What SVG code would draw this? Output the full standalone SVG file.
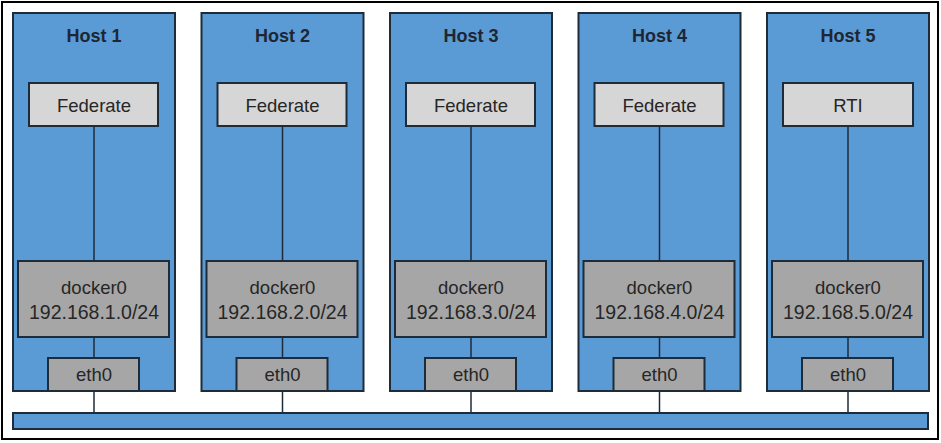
<svg xmlns="http://www.w3.org/2000/svg" width="941" height="443" viewBox="0 0 941 443">
<style>
.host{fill:#5B9BD5;stroke:#1E2B38;stroke-width:2}
.app{fill:#D6D6D6;stroke:#1E2B38;stroke-width:2}
.dock{fill:#A6A6A6;stroke:#1E2B38;stroke-width:2}
.bus{fill:#5B9BD5;stroke:#1E2B38;stroke-width:2}
.ln{stroke:#1E2B38;stroke-width:1.5;fill:none}
text{font-family:"Liberation Sans",Arial,sans-serif;text-anchor:middle;fill:#262626}
.t{font-weight:bold;font-size:18px;fill:#1E2633}
.l{font-size:18.5px}
.ip{font-size:19.5px}
</style>
<rect x="2" y="2" width="936" height="437" fill="#fff" stroke="#000" stroke-width="2"/>
<g id="host1">
<rect class="host" x="13" y="13" width="162" height="378"/>
<text class="t" x="94" y="42">Host 1</text>
<g id="federate1"><rect class="app" x="29" y="83" width="129" height="43"/><text class="l" x="94" y="112">Federate</text></g>
<g id="docker1"><rect class="dock" x="18" y="261" width="151" height="76"/><text class="l" x="94" y="294">docker0</text><text class="ip" x="94" y="319">192.168.1.0/24</text></g>
<g id="eth1"><rect class="dock" x="48" y="358" width="91" height="33"/><text class="l" x="94" y="381">eth0</text></g>
</g>
<g id="host2">
<rect class="host" x="201.5" y="13" width="162" height="378"/>
<text class="t" x="282.5" y="42">Host 2</text>
<g id="federate2"><rect class="app" x="217.5" y="83" width="129" height="43"/><text class="l" x="282.5" y="112">Federate</text></g>
<g id="docker2"><rect class="dock" x="206.5" y="261" width="151" height="76"/><text class="l" x="282.5" y="294">docker0</text><text class="ip" x="282.5" y="319">192.168.2.0/24</text></g>
<g id="eth2"><rect class="dock" x="236.5" y="358" width="91" height="33"/><text class="l" x="282.5" y="381">eth0</text></g>
</g>
<g id="host3">
<rect class="host" x="390" y="13" width="162" height="378"/>
<text class="t" x="471" y="42">Host 3</text>
<g id="federate3"><rect class="app" x="406" y="83" width="129" height="43"/><text class="l" x="471" y="112">Federate</text></g>
<g id="docker3"><rect class="dock" x="395" y="261" width="151" height="76"/><text class="l" x="471" y="294">docker0</text><text class="ip" x="471" y="319">192.168.3.0/24</text></g>
<g id="eth3"><rect class="dock" x="425" y="358" width="91" height="33"/><text class="l" x="471" y="381">eth0</text></g>
</g>
<g id="host4">
<rect class="host" x="578.5" y="13" width="162" height="378"/>
<text class="t" x="659.5" y="42">Host 4</text>
<g id="federate4"><rect class="app" x="594.5" y="83" width="129" height="43"/><text class="l" x="659.5" y="112">Federate</text></g>
<g id="docker4"><rect class="dock" x="583.5" y="261" width="151" height="76"/><text class="l" x="659.5" y="294">docker0</text><text class="ip" x="659.5" y="319">192.168.4.0/24</text></g>
<g id="eth4"><rect class="dock" x="613.5" y="358" width="91" height="33"/><text class="l" x="659.5" y="381">eth0</text></g>
</g>
<g id="host5">
<rect class="host" x="767" y="13" width="162" height="378"/>
<text class="t" x="848" y="42">Host 5</text>
<g id="rti"><rect class="app" x="783" y="83" width="130" height="43"/><text class="l" x="848" y="112">RTI</text></g>
<g id="docker5"><rect class="dock" x="772" y="261" width="151" height="76"/><text class="l" x="848" y="294">docker0</text><text class="ip" x="848" y="319">192.168.5.0/24</text></g>
<g id="eth5"><rect class="dock" x="802" y="358" width="91" height="33"/><text class="l" x="848" y="381">eth0</text></g>
</g>
<g id="network"><rect class="bus" x="13" y="413" width="915" height="16"/></g>
<g id="connectors">
<line class="ln" x1="94" y1="126" x2="94" y2="261"/><line class="ln" x1="94" y1="337" x2="94" y2="358"/><line class="ln" x1="94" y1="391" x2="94" y2="413"/>
<line class="ln" x1="282.5" y1="126" x2="282.5" y2="261"/><line class="ln" x1="282.5" y1="337" x2="282.5" y2="358"/><line class="ln" x1="282.5" y1="391" x2="282.5" y2="413"/>
<line class="ln" x1="471" y1="126" x2="471" y2="261"/><line class="ln" x1="471" y1="337" x2="471" y2="358"/><line class="ln" x1="471" y1="391" x2="471" y2="413"/>
<line class="ln" x1="659.5" y1="126" x2="659.5" y2="261"/><line class="ln" x1="659.5" y1="337" x2="659.5" y2="358"/><line class="ln" x1="659.5" y1="391" x2="659.5" y2="413"/>
<line class="ln" x1="848" y1="126" x2="848" y2="261"/><line class="ln" x1="848" y1="337" x2="848" y2="358"/><line class="ln" x1="848" y1="391" x2="848" y2="413"/>
</g>
</svg>
